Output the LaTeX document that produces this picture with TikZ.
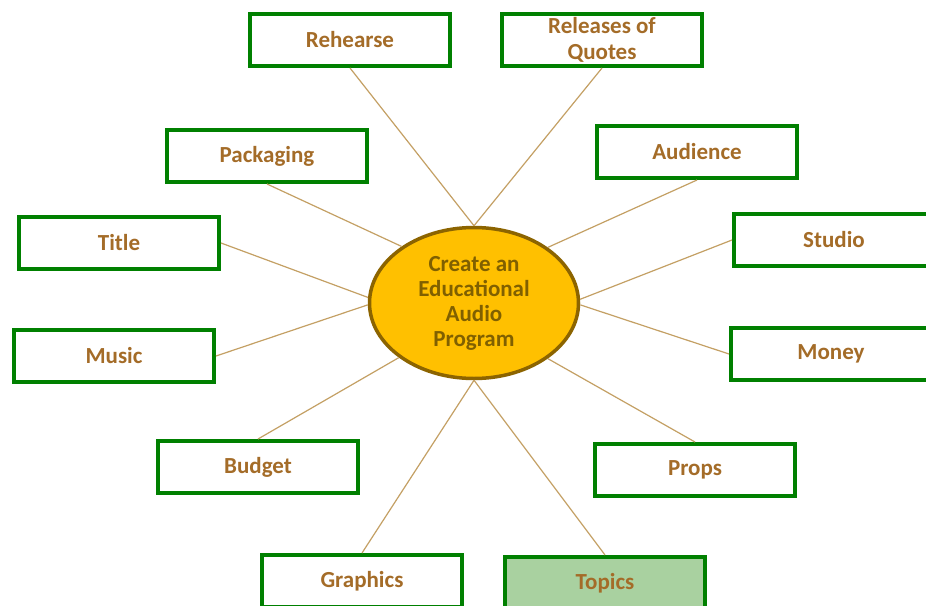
\documentclass[tikz,border=0pt]{standalone}
\usepackage{fontspec}
\setmainfont{Carlito}
\usetikzlibrary{shapes.geometric}
\definecolor{boxgreen}{RGB}{0,128,0}
\definecolor{boxtext}{RGB}{164,108,40}
\definecolor{centertext}{RGB}{128,96,0}
\definecolor{centerfill}{RGB}{255,192,0}
\definecolor{centerdraw}{RGB}{140,100,0}
\definecolor{linktan}{RGB}{196,160,100}
\definecolor{topicfill}{RGB}{169,209,160}
\begin{document}
\begin{tikzpicture}[x=1pt,y=-1pt,
  topicbox/.style={draw=boxgreen, line width=4pt, fill=white, minimum width=200pt, minimum height=52pt,
    inner sep=0pt, align=center, text=boxtext, font=\fontsize{23}{26}\selectfont\bfseries},
  hub/.style={ellipse, draw=centerdraw, line width=3.5pt, fill=centerfill, minimum width=209pt, minimum height=151pt,
    inner sep=0pt, align=center, text=centertext, font=\fontsize{23}{25}\selectfont\bfseries},
  link/.style={draw=linktan, line width=1.2pt}]
\useasboundingbox (0,0) rectangle (926,605);
\clip (0,0) rectangle (926,605);
\fill[white] (0,0) rectangle (926,605);
\node[hub] (c) at (474,303) {Create an\\Educational\\Audio\\Program};
\node[topicbox] (reh) at (350,40) {Rehearse};
\node[topicbox] (rel) at (602,40) {Releases of\\Quotes};
\node[topicbox] (pack) at (267,156) {Packaging};
\node[topicbox] (aud) at (697,152) {Audience};
\node[topicbox] (tit) at (119,243) {Title};
\node[topicbox] (stu) at (834,240) {Studio};
\node[topicbox] (mus) at (114,356) {Music};
\node[topicbox] (mon) at (831,354) {Money};
\node[topicbox] (bud) at (258,467) {Budget};
\node[topicbox] (pro) at (695,470) {Props};
\node[topicbox] (gra) at (362,581) {Graphics};
\node[topicbox, fill=topicfill] (top) at (605,583) {Topics};
\draw[link] (reh.south) -- (c.north);
\draw[link] (rel.south) -- (c.north);
\draw[link] (pack.south) -- (c.142.6);
\draw[link] (aud.south) -- (c.37.6);
\draw[link] (tit.east) -- (c.177);
\draw[link] (stu.west) -- (c.2);
\draw[link] (mus.east) -- (c.181);
\draw[link] (mon.west) -- (c.359);
\draw[link] (bud.north) -- (c.216.6);
\draw[link] (pro.north) -- (c.323.4);
\draw[link] (gra.north) -- (c.south);
\draw[link] (top.north) -- (c.south);
\end{tikzpicture}
\end{document}
